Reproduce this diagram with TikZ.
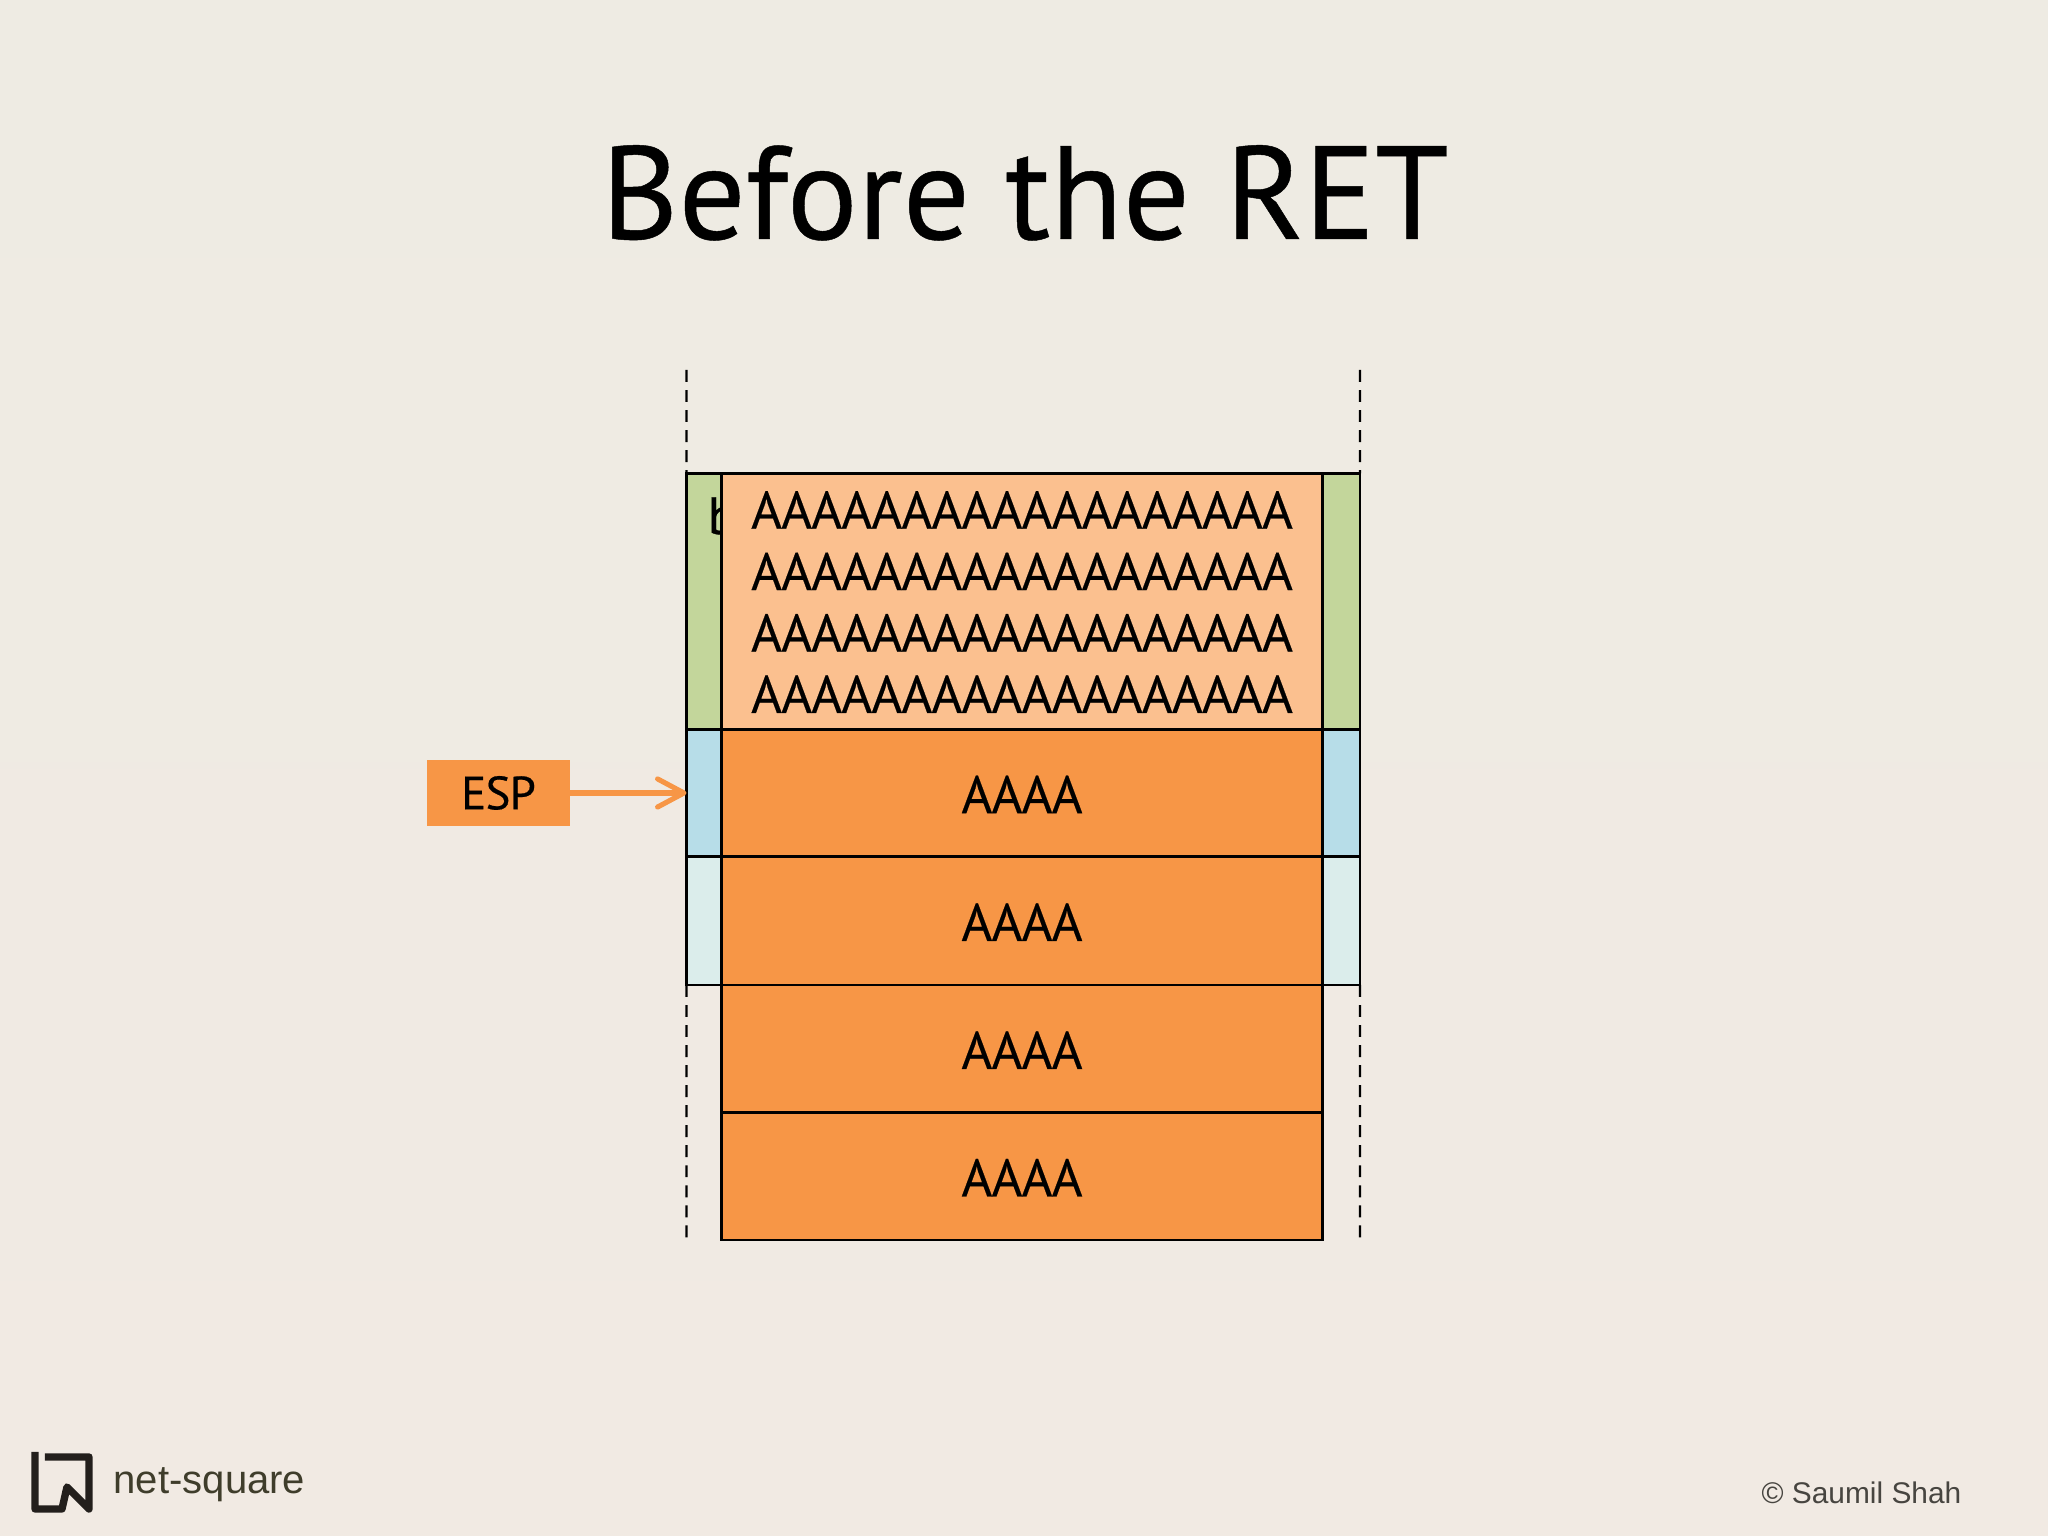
\documentclass[tikz,border=0pt]{standalone}
\usepackage{fontspec}
\usetikzlibrary{arrows.meta}
\setmainfont{PT Sans}
\newfontfamily\titlefont[FakeBold=0.35]{PT Sans}
\newfontfamily\cellfont[LetterSpace=-1.5,FakeBold=0.35]{PT Sans}
\newfontfamily\footfont{Liberation Sans}
\definecolor{slideTop}{HTML}{EEEBE3}
\definecolor{slideBottom}{HTML}{F1EAE3}
\definecolor{retOrange}{HTML}{F79646}
\definecolor{retPeach}{HTML}{FBC08F}
\definecolor{retGreen}{HTML}{C3D69B}
\definecolor{retBlue}{HTML}{B7DDE8}
\definecolor{retPale}{HTML}{DBEDEB}
\definecolor{logoInk}{HTML}{231F1C}
\definecolor{logoText}{HTML}{3F3D2B}
\definecolor{copyText}{HTML}{474540}

\begin{document}
\begin{tikzpicture}[
    outercell/.style={draw=black,line width=0.75pt,outer sep=0pt,inner sep=0pt,
                      minimum width=6.735cm},
    innercell/.style={draw=black,line width=0.75pt,outer sep=0pt,inner sep=0pt,
                      minimum width=6.01cm,align=center,
                      font=\fontsize{15}{17.47}\cellfont},
    wordcell/.style={innercell,fill=retOrange,text height=11.5pt},
    edgeline/.style={black,line width=0.7pt,dash pattern=on 3.4pt off 2.3pt}]
  \useasboundingbox (0,0) rectangle (20.48,15.36);
  \shade[top color=slideTop,bottom color=slideBottom] (0,0) rectangle (20.48,15.36);

  \node[font=\fontsize{37.7}{45}\titlefont,anchor=base] (title) at (10.25,12.97) {Before the RET};

  % wide cells behind the stack
  \node[outercell,fill=retGreen,minimum height=2.56cm] (tos) at (10.2325,9.345) {};
  \node[outercell,fill=retBlue,minimum height=1.27cm] (espcell) at (10.2325,7.43) {};
  \node[outercell,fill=retPale,minimum height=1.285cm] (nextcell) at (10.2325,6.1525) {};
  \node[font=\fontsize{15}{17.47}\cellfont] (hidden) at (7.22,10.2) {b};

  \coordinate (topleft) at (6.865,15.36-3.70);
  \coordinate (topright) at (13.60,15.36-3.70);
  \coordinate (botleft) at (6.865,2.98);
  \coordinate (botright) at (13.60,2.98);
  \draw[edgeline] (topleft) -- (tos.north west);
  \draw[edgeline] (topright) -- (tos.north east);
  \draw[edgeline] (nextcell.south west) -- (botleft);
  \draw[edgeline] (nextcell.south east) -- (botright);

  % the stack itself
  \node[innercell,fill=retPeach,minimum height=2.56cm] (buf) at (10.22,9.345) {
    \rule{0pt}{11pt}AAAAAAAAAAAAAAAAAA\\AAAAAAAAAAAAAAAAAA\\AAAAAAAAAAAAAAAAAA\\AAAAAAAAAAAAAAAAAA};
  \node[wordcell,minimum height=1.27cm] (a1) at (10.22,7.43) {AAAA};
  \node[wordcell,minimum height=1.285cm] (a2) at (10.22,6.1525) {AAAA};
  \node[wordcell,minimum height=1.275cm] (a3) at (10.22,4.8725) {AAAA};
  \node[wordcell,minimum height=1.275cm] (a4) at (10.22,3.5975) {AAAA};

  \node[fill=retOrange,outer sep=0pt,inner sep=0pt,minimum width=1.43cm,minimum height=0.66cm,
        font=\fontsize{13.3}{15}\cellfont] (esp) at (4.985,7.43) {ESP};
  \draw[-{Straight Barb[length=7.5pt,width=8pt,round]},retOrange,line width=1.45pt]
    (esp.east) -- (espcell.west);

  % logo
  \draw[logoInk,line width=2.1pt,line join=round]
    (0.45,15.36-14.57) -- (0.89,15.36-14.57) -- (0.89,15.36-15.09) -- (0.67,15.36-14.87)
    -- (0.62,15.36-15.09) -- (0.35,15.36-15.09) -- (0.35,15.36-14.52);
  \node[font=\fontsize{11.4}{13}\footfont,text=logoText,anchor=west,inner sep=0pt] (brand) at (1.13,0.51) {net-square};
  \node[font=\fontsize{8.5}{10}\footfont,text=copyText,anchor=east,inner sep=0pt] (copy) at (19.62,0.43) {© Saumil Shah};
\end{tikzpicture}
\end{document}
